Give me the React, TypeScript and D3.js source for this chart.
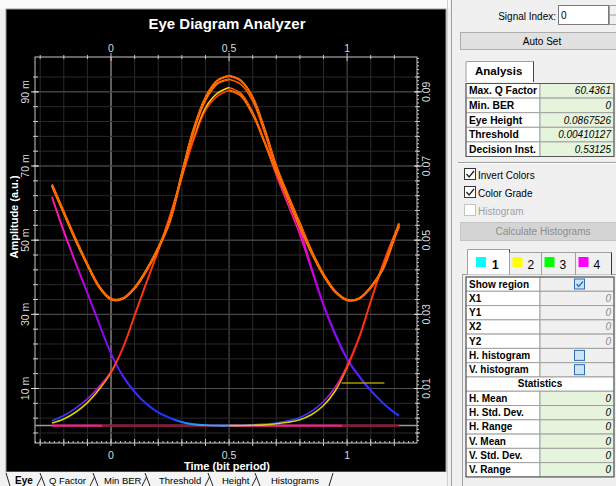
import React from "react";
import * as d3 from "d3";

// ---------------- data ----------------
const TIME = [-0.25, -0.2, -0.15, -0.1, -0.05, 0, 0.05, 0.1, 0.15, 0.2, 0.25, 0.3, 0.35, 0.4, 0.45, 0.5, 0.55, 0.6, 0.65, 0.7, 0.75, 0.8, 0.85, 0.9, 0.95, 1.0, 1.05, 1.1, 1.15, 1.2, 1.22];

// amplitudes in milli-units (m)
const TRACE_111 = [65, 57.6, 50.3, 43.5, 37.5, 34.2, 34.3, 37.2, 42, 48, 55.5, 68, 80, 88.5, 93, 94.3, 93, 88.5, 80, 70, 62, 54.5, 47, 40.8, 36.2, 33.9, 34.3, 37.3, 42.2, 51, 54.5];
const TRACE_110 = [64.6, 57.3, 50, 43.3, 37.3, 34, 34.2, 37, 41.8, 47.7, 55.2, 67.5, 79.5, 87.8, 92.2, 93.4, 92, 87.5, 79, 69, 61, 52.8, 42.5, 32.8, 24.8, 18.2, 13.5, 9.6, 6.3, 3.6, 2.8];
const TRACE_011 = [1.3, 2.7, 4.7, 7.2, 10.5, 14.6, 21, 29.8, 38.7, 47.3, 56.8, 67, 77, 85, 88.8, 90.4, 89, 84, 76.5, 68.5, 61, 53.5, 46.5, 40.5, 36, 33.8, 34.2, 37.2, 42, 50.5, 54];
const TRACE_010 = [0.7, 1.8, 3.6, 6.2, 9.8, 14.3, 20.8, 29.6, 38.5, 47.1, 56.6, 67, 77.5, 85.7, 89.6, 91.2, 89.6, 84.5, 76.5, 67.5, 59.5, 51.5, 41.8, 32.3, 24.3, 17.8, 13.2, 9.3, 6.1, 3.4, 2.6];
const TRACE_101 = [61.7, 52.5, 44, 35.8, 27.5, 19.5, 13.5, 9.2, 5.9, 3.6, 2.1, 1.0, 0.4, 0.1, 0, 0, 0.1, 0.2, 0.4, 0.7, 1.3, 2.2, 3.9, 6.5, 10.4, 16.2, 23.8, 33.6, 43.3, 51.3, 53.6];
const TRACE_100 = [61.5, 52.3, 43.8, 35.6, 27.3, 19.3, 13.3, 9.0, 5.8, 3.5, 2.0, 0.9, 0.3, 0.1, 0, 0, 0, 0, 0, 0, 0, 0, 0, 0, 0, 0, 0, 0, 0, 0, 0];
const TRACE_001 = [0, 0, 0, 0, 0, 0, 0, 0, 0, 0, 0, 0, 0, 0, 0, 0, 0, 0.1, 0.2, 0.5, 0.9, 1.6, 3.0, 5.4, 9.4, 15.6, 23.4, 33.3, 43.0, 51.0, 53.3];
const TRACE_000 = [0, 0, 0, 0, 0, 0, 0, 0, 0, 0, 0, 0, 0, 0, 0, 0, 0, 0, 0, 0, 0, 0, 0, 0, 0, 0, 0, 0, 0, 0, 0];

// transition kind of first half / second half of each trace
const TRACE_KINDS: [string, string, number[]][] = [
  ["stay0", "stay0", TRACE_000],
  ["fall", "stay0", TRACE_100],
  ["stay0", "riseY", TRACE_001],
  ["fall", "rise", TRACE_101],
  ["riseY", "fall", TRACE_010],
  ["rise", "stay1", TRACE_011],
  ["stay1", "fall", TRACE_110],
  ["stay1", "stay1", TRACE_111],
];

const MARKER_T = [0.977, 1.158];
const MARKER_V = 11.5;

const X_DOMAIN = [-0.322, 1.296];
const Y_DOMAIN = [-4.7, 99.4];
const X_LABELS = [0, 0.5, 1];
const Y_LEFT_LABELS = ["10 m", "30 m", "50 m", "70 m", "90 m"];
const Y_RIGHT_LABELS = ["0.01", "0.03", "0.05", "0.07", "0.09"];
const Y_LABEL_VALUES = [10, 30, 50, 70, 90];

const ANALYSIS_LABELS = ["Max. Q Factor", "Min. BER", "Eye Height", "Threshold", "Decision Inst."];
const ANALYSIS_VALUES = ["60.4361", "0", "0.0867526", "0.00410127", "0.53125"];
const REGION_LABELS = ["X1", "Y1", "X2", "Y2"];
const REGION_VALUES = ["0", "0", "0", "0"];
const STAT_LABELS = ["H. Mean", "H. Std. Dev.", "H. Range", "V. Mean", "V. Std. Dev.", "V. Range"];
const STAT_VALUES = ["0", "0", "0", "0", "0", "0"];
const BOTTOM_TABS = ["Eye", "Q Factor", "Min BER", "Threshold", "Height", "Histograms"];
const BOTTOM_TAB_X = [15, 49, 104, 159, 222, 271];
const SEP_X = [40, 93, 145, 208, 255];
const SIGNAL_TABS = ["1", "2", "3", "4"];
const SIGNAL_COLORS = ["#00ffff", "#ffff00", "#00ff00", "#ff00ff"];

// ---------------- layout ----------------
const W = 616;
const H = 486;
const PL = 35, PR = 417, PT = 57, PB = 443;
const FONT = "'Liberation Sans', Arial, sans-serif";

const x = d3.scaleLinear().domain(X_DOMAIN).range([PL, PR]);
const y = d3.scaleLinear().domain(Y_DOMAIN).range([PB, PT]);

const KIND_ORDER: Record<string, number> = { stay0: 0, fall: 1, rise: 2, riseY: 3, stay1: 4 };

function segments() {
  const segs: { kind: string; side: string; ts: number[]; vs: number[] }[] = [];
  const mid = TIME.indexOf(0.5);
  TRACE_KINDS.forEach(([l, r, vals]) => {
    segs.push({ kind: l, side: "L", ts: TIME.slice(0, mid + 1), vs: vals.slice(0, mid + 1) });
    segs.push({ kind: r, side: "R", ts: TIME.slice(mid), vs: vals.slice(mid) });
  });
  segs.sort((a, b) => KIND_ORDER[a.kind] - KIND_ORDER[b.kind]);
  return segs;
}

function strokeFor(kind: string, side: string) {
  if (kind === "stay1") return "#ff7400";
  if (kind === "stay0") return side === "L" ? "url(#g-s0L)" : "url(#g-s0R)";
  return `url(#g-${kind})`;
}

function Gradients() {
  const vgrad = (id: string, stops: [number, string][]) => (
    <linearGradient id={id} gradientUnits="userSpaceOnUse" x1={0} x2={0} y1={y(0)} y2={y(95)}>
      {stops.map(([o, c], i) => (
        <stop key={i} offset={o} stopColor={c} />
      ))}
    </linearGradient>
  );
  const hgrad = (id: string, t0: number, t1: number, split: number) => {
    const o = (split - t0) / (t1 - t0);
    return (
      <linearGradient id={id} gradientUnits="userSpaceOnUse" x1={x(t0)} x2={x(t1)} y1={0} y2={0}>
        <stop offset={0} stopColor="#ff1a8c" />
        <stop offset={o} stopColor="#ff1a8c" />
        <stop offset={o} stopColor="#a0103c" />
        <stop offset={1} stopColor="#a0103c" />
      </linearGradient>
    );
  };
  return (
    <defs>
      {vgrad("g-rise", [[0, "#2a50ff"], [0.02, "#2a3cff"], [0.07, "#7a20f0"], [0.12, "#e010b0"], [0.17, "#ff2030"], [0.6, "#ff2a10"], [1, "#ff3a00"]])}
      {vgrad("g-riseY", [[0, "#d0d000"], [0.1, "#e6d000"], [0.15, "#ff6010"], [0.2, "#ff2a10"], [0.8, "#ff5000"], [0.93, "#ffd000"], [1, "#ffe000"]])}
      {vgrad("g-fall", [[0, "#20b0ff"], [0.02, "#1838ff"], [0.1, "#3a28ff"], [0.22, "#7a10f0"], [0.38, "#b000e0"], [0.55, "#ff10c0"], [0.68, "#ff2080"], [0.8, "#ff4020"], [1, "#ff6000"]])}
      {hgrad("g-s0L", -0.25, 0.5, -0.04)}
      {hgrad("g-s0R", 0.5, 1.22, 0.98)}
      <clipPath id="plot-clip">
        <rect x={PL} y={PT} width={PR - PL} height={PB - PT} />
      </clipPath>
    </defs>
  );
}

function Chart() {
  const segs = segments();
  const xMinor = d3.range(-3, 13).map((k) => k / 10);
  const yMinor = d3.range(-1, 25).map((k) => k * 4 - 2).filter((v) => v > Y_DOMAIN[0] && v < Y_DOMAIN[1]);
  const yFine = d3.range(-4, 100).filter((v) => v > Y_DOMAIN[0] && v < Y_DOMAIN[1]);
  const xFine = d3.range(-32, 130, 2).map((k) => k / 100).filter((t) => t > X_DOMAIN[0] && t < X_DOMAIN[1]);
  const textFill = "#dcdcdc";
  return (
    <g>
      <rect x={6} y={9} width={440} height={463} fill="#000" stroke="#9a9a9a" />
      <text x={227} y={29} textAnchor="middle" fill="#fff" fontFamily={FONT} fontWeight="bold" fontSize={15}>
        Eye Diagram Analyzer
      </text>
      {/* grid */}
      {xMinor.map((t) => (
        <line key={"gx" + t} x1={x(t)} x2={x(t)} y1={PT} y2={PB}
          stroke={Math.abs(t) < 1e-9 ? "#bdbdbd" : Math.abs(t - 0.5) < 1e-9 || Math.abs(t - 1) < 1e-9 ? "#555" : "#2a2a2a"} />
      ))}
      {yMinor.map((v) => (
        <line key={"gy" + v} x1={PL} x2={PR} y1={y(v)} y2={y(v)} stroke="#2a2a2a" />
      ))}
      {Y_LABEL_VALUES.map((v) => (
        <line key={"gyM" + v} x1={PL} x2={PR} y1={y(v)} y2={y(v)} stroke="#505050" />
      ))}
      {/* frame */}
      <rect x={PL} y={PT} width={PR - PL} height={PB - PT} fill="none" stroke="#c8c8c8" />
      {/* ticks top */}
      {xMinor.map((t) => {
        const major = X_LABELS.some((l) => Math.abs(l - t) < 1e-9);
        return <line key={"tt" + t} x1={x(t)} x2={x(t)} y1={major ? 53 : 55} y2={major ? 61 : 59} stroke="#c8c8c8" />;
      })}
      {/* ticks bottom */}
      {xFine.map((t) => (
        <line key={"tbf" + t} x1={x(t)} x2={x(t)} y1={PB - 2} y2={PB} stroke="#c8c8c8" />
      ))}
      {xMinor.map((t) => (
        <line key={"tb" + t} x1={x(t)} x2={x(t)} y1={PB - 4} y2={PB + 3} stroke="#c8c8c8" />
      ))}
      {/* ticks left */}
      {yMinor.map((v) => (
        <line key={"tl" + v} x1={PL - 2} x2={PL + 3} y1={y(v)} y2={y(v)} stroke="#c8c8c8" />
      ))}
      {Y_LABEL_VALUES.map((v) => (
        <line key={"tlM" + v} x1={PL - 4} x2={PL + 4} y1={y(v)} y2={y(v)} stroke="#d8d8d8" />
      ))}
      {/* ticks right */}
      {yFine.map((v) => (
        <line key={"trf" + v} x1={PR} x2={PR + 2} y1={y(v)} y2={y(v)} stroke="#c8c8c8" />
      ))}
      {yMinor.map((v) => (
        <line key={"tr" + v} x1={PR - 2} x2={PR + 3} y1={y(v)} y2={y(v)} stroke="#c8c8c8" />
      ))}
      {Y_LABEL_VALUES.map((v) => (
        <line key={"trM" + v} x1={PR - 3} x2={PR + 5} y1={y(v)} y2={y(v)} stroke="#d8d8d8" />
      ))}
      {/* labels */}
      {X_LABELS.map((t) => (
        <g key={"xl" + t}>
          <text x={x(t)} y={52} textAnchor="middle" fill={textFill} fontFamily={FONT} fontSize={10.5}>{t}</text>
          <text x={x(t)} y={459} textAnchor="middle" fill={textFill} fontFamily={FONT} fontSize={10.5}>{t}</text>
        </g>
      ))}
      {Y_LABEL_VALUES.map((v, i) => (
        <g key={"yl" + v}>
          <text transform={`translate(29,${y(v)}) rotate(-90)`} textAnchor="middle" fill={textFill} fontFamily={FONT} fontSize={10.5}>
            {Y_LEFT_LABELS[i]}
          </text>
          <text transform={`translate(430,${y(v)}) rotate(-90)`} textAnchor="middle" fill={textFill} fontFamily={FONT} fontSize={10.5}>
            {Y_RIGHT_LABELS[i]}
          </text>
        </g>
      ))}
      <text transform={`translate(18,217) rotate(-90)`} textAnchor="middle" fill="#fff" fontFamily={FONT} fontWeight="bold" fontSize={11}>
        Amplitude (a.u.)
      </text>
      <text x={227} y={469.5} textAnchor="middle" fill="#fff" fontFamily={FONT} fontWeight="bold" fontSize={11}>
        Time (bit period)
      </text>
      {/* data */}
      <g clipPath="url(#plot-clip)">
        <line x1={PL} x2={PR} y1={y(0)} y2={y(0)} stroke="#9a9a9a" strokeWidth={1.6} />
        {segs.map((s, i) => {
          const gen = d3
            .line<number>()
            .x((_, j) => x(s.ts[j]))
            .y((v) => y(v))
            .curve(d3.curveCatmullRom.alpha(0.5));
          const d = gen(s.vs) || "";
          if (s.kind === "stay1") {
            return (
              <g key={"s" + i}>
                <path d={d} fill="none" stroke="#ff7a00" strokeWidth={2.2} />
                <path d={d} fill="none" stroke="#ff2a00" strokeWidth={1} strokeDasharray="1.2 2" />
              </g>
            );
          }
          return (
            <path key={"s" + i} d={d} fill="none" stroke={strokeFor(s.kind, s.side)}
              strokeWidth={s.kind === "stay0" ? 1.8 : 1.6} />
          );
        })}
        <line x1={x(MARKER_T[0])} x2={x(MARKER_T[1])} y1={y(MARKER_V)} y2={y(MARKER_V)} stroke="#a89800" strokeWidth={1.5} />
      </g>
    </g>
  );
}

function Check({ cx, cy, size = 11, checked, blue, disabled }: { cx: number; cy: number; size?: number; checked?: boolean; blue?: boolean; disabled?: boolean }) {
  const stroke = blue ? "#2f6db5" : disabled ? "#c4c4c4" : "#333";
  const fill = blue ? "#cde4f7" : "#fff";
  return (
    <g>
      <rect x={cx} y={cy} width={size} height={size} fill={fill} stroke={stroke} />
      {checked && (
        <path d={`M${cx + 2},${cy + size / 2} L${cx + size * 0.42},${cy + size - 2.5} L${cx + size - 1.5},${cy + 2.5}`} fill="none" stroke={blue ? "#2f6db5" : "#222"} strokeWidth={1.3} />
      )}
    </g>
  );
}

function Panel() {
  const t1Top = 83.5;
  const t1H = 14.6;
  const t2Top = 277;
  const t2H = 14.28;
  const tl = 466, tm = 540, tr = 614;
  const rows2: { label: string; kind: string; value?: string }[] = [
    { label: "Show region", kind: "check" },
    ...REGION_LABELS.map((l, i) => ({ label: l, kind: "gray", value: REGION_VALUES[i] })),
    { label: "H. histogram", kind: "box" },
    { label: "V. histogram", kind: "box" },
    { label: "Statistics", kind: "header" },
    ...STAT_LABELS.map((l, i) => ({ label: l, kind: "green", value: STAT_VALUES[i] })),
  ];
  return (
    <g fontFamily={FONT}>
      {/* splitter */}
      <line x1={447.5} x2={447.5} y1={0} y2={H} stroke="#d0d0d0" />
      <line x1={451.5} x2={451.5} y1={0} y2={H} stroke="#a0a0a0" />
      {/* signal index */}
      <text x={556} y={20} textAnchor="end" fontSize={10} fill="#000">Signal Index:</text>
      <rect x={558.5} y={5.5} width={50} height={19} fill="#fff" stroke="#7a7a7a" />
      <text x={561} y={19} fontSize={10} fill="#000">0</text>
      <rect x={609.5} y={5.5} width={8} height={19} fill="#f0f0f0" stroke="#a0a0a0" />
      <line x1={609.5} x2={617} y1={15} y2={15} stroke="#a0a0a0" />
      {/* auto set */}
      <rect x={460.5} y={32.5} width={160} height={17} fill="#e1e1e1" stroke="#adadad" />
      <text x={542} y={44.5} textAnchor="middle" fontSize={10} fill="#000">Auto Set</text>
      {/* analysis tab */}
      <path d={`M${tl},${82} V61.5 H533.5 V82`} fill="#fff" stroke="#a0a0a0" />
      <line x1={533.5} x2={533.5} y1={61.5} y2={82} stroke="#444" />
      <text x={475} y={75} fontSize={11.5} fontWeight="bold" fill="#000">Analysis</text>
      {/* analysis table */}
      {ANALYSIS_LABELS.map((l, i) => (
        <g key={"a" + i}>
          <rect x={tl} y={t1Top + i * t1H} width={tm - tl} height={t1H} fill="#fff" stroke="#a0a0a0" />
          <rect x={tm} y={t1Top + i * t1H} width={tr - tm} height={t1H} fill="#e6f4de" stroke="#a0a0a0" />
          <text x={tl + 3} y={t1Top + i * t1H + 10.8} fontSize={10.3} fontWeight="bold" fill="#000">{l}</text>
          <text x={tr - 3} y={t1Top + i * t1H + 10.8} fontSize={10} fontStyle="italic" textAnchor="end" fill="#000">{ANALYSIS_VALUES[i]}</text>
        </g>
      ))}
      <rect x={tl} y={t1Top} width={tr - tl} height={t1H * 5} fill="none" stroke="#555" />
      {/* separator */}
      <line x1={458} x2={616} y1={162.5} y2={162.5} stroke="#a0a0a0" />
      <line x1={458} x2={616} y1={163.5} y2={163.5} stroke="#fff" />
      {/* check boxes */}
      <Check cx={464.5} cy={168.5} size={11} checked />
      <text x={478} y={178.5} fontSize={10} fill="#000">Invert Colors</text>
      <Check cx={464.5} cy={186.5} size={11} checked />
      <text x={478} y={196.5} fontSize={10} fill="#000">Color Grade</text>
      <Check cx={464.5} cy={204.5} size={11} disabled />
      <text x={478} y={214.5} fontSize={10} fill="#a0a0a0">Histogram</text>
      {/* calculate histograms */}
      <rect x={460.5} y={222.5} width={160} height={18} fill="#d4d4d4" stroke="#c4c4c4" />
      <text x={543} y={235} textAnchor="middle" fontSize={10} fill="#8d8d8d">Calculate Histograms</text>
      {/* signal tabs */}
      <line x1={462} x2={616} y1={274.5} y2={274.5} stroke="#a0a0a0" />
      {SIGNAL_TABS.map((s, i) => {
        const xs = [467.5, 509.5, 541.5, 575.5, 611.5];
        const sel = i === 0;
        const x0 = xs[i];
        const x1 = xs[i + 1];
        const top = sel ? 249.5 : 252.5;
        return (
          <g key={"st" + i}>
            <path d={`M${x0},274.5 V${top} H${x1} V274.5`} fill={sel ? "#fff" : "#f0f0f0"} stroke="#a0a0a0" />
            <line x1={x1} x2={x1} y1={top} y2={274.5} stroke="#333" />
            <rect x={sel ? 476 : x0 + 3} y={257} width={10} height={10} fill={SIGNAL_COLORS[i]} />
            <text x={sel ? 492 : x0 + 18} y={268.5} fontSize={12} fontWeight={sel ? "bold" : "normal"} fill="#000">{s}</text>
          </g>
        );
      })}
      <line x1={462.5} x2={462.5} y1={274.5} y2={H} stroke="#a0a0a0" />
      {/* region/statistics table */}
      {rows2.map((r, i) => {
        const yy = t2Top + i * t2H;
        if (r.kind === "header") {
          return (
            <g key={"r" + i}>
              <rect x={tl} y={yy} width={tr - tl} height={t2H} fill="#fff" stroke="#a0a0a0" />
              <text x={(tl + tr) / 2} y={yy + 10.5} textAnchor="middle" fontSize={10} fontWeight="bold" fill="#000">{r.label}</text>
            </g>
          );
        }
        const vfill = r.kind === "green" ? "#e6f4de" : "#f0f0f0";
        return (
          <g key={"r" + i}>
            <rect x={tl} y={yy} width={tm - tl} height={t2H} fill="#fff" stroke="#a0a0a0" />
            <rect x={tm} y={yy} width={tr - tm} height={t2H} fill={vfill} stroke="#a0a0a0" />
            <text x={tl + 3} y={yy + 10.5} fontSize={10} fontWeight="bold" fill="#000">{r.label}</text>
            {r.value !== undefined && (
              <text x={tr - 3} y={yy + 10.5} fontSize={10} fontStyle="italic" textAnchor="end" fill={r.kind === "gray" ? "#8a8a8a" : "#000"}>{r.value}</text>
            )}
            {r.kind === "check" && <Check cx={574.5} cy={yy + 2} size={10} checked blue />}
            {r.kind === "box" && <Check cx={574.5} cy={yy + 2} size={10} blue />}
          </g>
        );
      })}
      <rect x={tl} y={t2Top} width={tr - tl} height={t2H * rows2.length} fill="none" stroke="#555" />
    </g>
  );
}

function BottomTabs() {
  return (
    <g fontFamily={FONT}>
      <rect x={6} y={472} width={440} height={14} fill="#f4f4f4" />
      <path d="M6,473 L10,486" stroke="#222" fill="none" />
      {SEP_X.map((sx, i) => (
        <g key={"sep" + i}>
          <path d={`M${sx},473 L${sx + 5},486`} stroke="#222" fill="none" />
          <path d={`M${sx - 3},486 L${sx + 1.5},477`} stroke="#222" fill="none" />
        </g>
      ))}
      <path d="M333,473 L329,486" stroke="#222" fill="none" />
      {BOTTOM_TABS.map((t, i) => (
        <text key={t} x={BOTTOM_TAB_X[i]} y={484} fontSize={i === 0 ? 10 : 9.5} fontWeight={i === 0 ? "bold" : "normal"} fill="#000">
          {t}
        </text>
      ))}
    </g>
  );
}

export default function App() {
  return (
    <svg width={W} height={H} style={{ position: "absolute", left: 0, top: 0, display: "block" }}>
      <Gradients />
      <rect x={0} y={0} width={W} height={H} fill="#f0f0f0" />
      <rect x={0} y={0} width={450} height={9} fill="#fafafa" />
      <Chart />
      <BottomTabs />
      <Panel />
    </svg>
  );
}
